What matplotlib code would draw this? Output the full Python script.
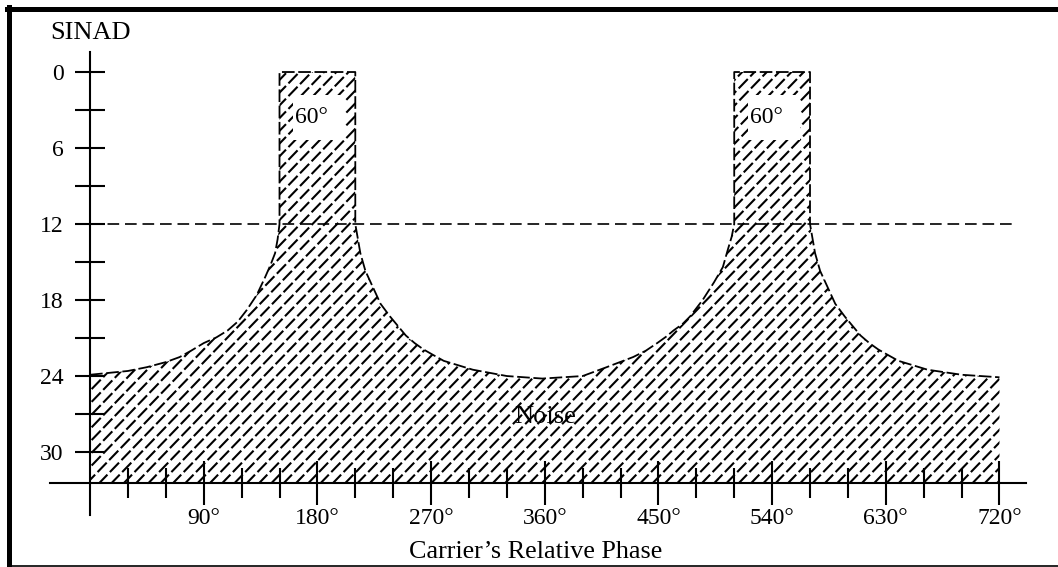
import numpy as np
import matplotlib
matplotlib.use('Agg')
import matplotlib.pyplot as plt
from matplotlib.patches import Polygon, Rectangle
from matplotlib.collections import LineCollection
from matplotlib.lines import Line2D

plt.rcParams['font.family'] = ['Liberation Serif', 'DejaVu Serif']

# Efri jaðar suðsvæðisins (fasi í gráðum, SINAD í dB) lesinn af myndinni
phase = [0, 30, 45, 60, 71, 80, 90, 100, 109, 117, 124, 132, 138.6, 143, 146.5, 148.5, 150,
         150, 210,
         210, 214, 218, 224, 230, 237.5, 250, 257, 264, 271, 280, 303, 330, 358,
         390, 409, 430, 440, 449, 456, 462, 469, 475, 485, 494, 501, 505, 508, 510,
         510, 570,
         570, 574, 578, 584, 590, 597.5, 610, 617, 624, 631, 640, 663, 690, 720]
sinad = [23.9, 23.6, 23.3, 22.9, 22.5, 22.0, 21.4, 20.95, 20.4, 19.7, 18.8, 17.6, 16.2, 15.2, 14.3, 13.2, 12,
         0, 0,
         12, 14.3, 15.7, 17.0, 18.3, 19.3, 20.8, 21.4, 21.9, 22.3, 22.8, 23.5, 24.0, 24.2,
         24.0, 23.3, 22.5, 22.0, 21.4, 20.9, 20.4, 19.9, 19.3, 18.0, 16.6, 15.4, 14.0, 13.0, 12,
         0, 0,
         12, 14.3, 15.7, 17.0, 18.3, 19.3, 20.8, 21.4, 21.9, 22.3, 22.8, 23.5, 23.9, 24.1]

threshold = 12
peak_centers = [180, 540]
peak_label = '60°'

y_major = [0, 6, 12, 18, 24, 30]
y_minor = [3, 9, 15, 21, 27]
x_major = [90, 180, 270, 360, 450, 540, 630, 720]
x_labels = ['90°', '180°', '270°', '360°', '450°', '540°', '630°', '720°']
x_minor = [30, 60, 120, 150, 210, 240, 300, 330, 390, 420, 480, 510, 570, 600, 660, 690]

axis_level = 32.45
W, H = 1058, 567

fig = plt.figure(figsize=(W / 100, H / 100), dpi=100)
ax_px = (50, 52, 1026, 515)  # vinstri, efri, hægri, neðri í pixlum
ax = fig.add_axes([ax_px[0] / W, 1 - ax_px[3] / H,
                   (ax_px[2] - ax_px[0]) / W, (ax_px[3] - ax_px[1]) / H])
ax.set_xlim(-31.7, 741)
ax.set_ylim(34.97, -1.58)

# Suðsvæðið
verts = list(zip(phase, sinad)) + [(720, axis_level), (0, axis_level)]
poly = Polygon(verts, closed=True, facecolor='none', edgecolor='none')
ax.add_patch(poly)

# Strikuð skálína, klippt að svæðinu (strik í takt hornrétt á línurnar)
w = ax_px[2] - ax_px[0]
h = ax_px[3] - ax_px[1]
ang = np.deg2rad(46)
step = 12.3
d = step * np.sin(ang)
u = np.array([np.cos(ang), np.sin(ang)])
n = np.array([np.sin(ang), -np.cos(ang)])
C = np.array([w / 2, h / 2])
L = np.hypot(w, h)
segs = []
for k in range(-int(L / d) - 2, int(L / d) + 3):
    p = C + k * d * n
    a = p - L * u
    b = p + L * u
    segs.append([(a[0] / w, a[1] / h), (b[0] / w, b[1] / h)])
hatch = LineCollection(segs, transform=ax.transAxes, colors='black',
                       linewidths=1.5, linestyles=[(0, (6.3, 1.7))], zorder=1)
hatch.set_clip_path(poly)
ax.add_collection(hatch)

ax.plot(phase, sinad, color='black', lw=1.3, linestyle=(0, (7, 2)), zorder=2)
ax.plot([0, 734], [threshold, threshold], color='black', lw=1.2,
        linestyle=(0, (7, 3.5)), zorder=2)

for c in peak_centers:
    ax.add_patch(Rectangle((c - 19, 1.8), 41, 3.6, facecolor='white',
                           edgecolor='none', zorder=3))
    ax.text(c - 4.5, 3.6, peak_label, ha='center', va='center', fontsize=17, zorder=4)

ax.text(360, 27.2, 'Noise', ha='center', va='center', fontsize=19, zorder=2)

# Ásar
for s in ['top', 'right']:
    ax.spines[s].set_visible(False)
ax.spines['left'].set_position(('data', 0))
ax.spines['bottom'].set_position(('data', axis_level))
ax.spines['left'].set_linewidth(1.5)
ax.spines['bottom'].set_linewidth(1.5)

ax.set_xticks(x_major)
ax.set_xticklabels(x_labels)
ax.set_xticks(x_minor, minor=True)
ax.set_yticks(y_major)
ax.set_yticks(y_minor, minor=True)
ax.tick_params(axis='x', which='major', direction='inout', length=32, width=1.5,
               pad=2, labelsize=17)
ax.tick_params(axis='x', which='minor', direction='inout', length=21, width=1.5)
ax.tick_params(axis='y', which='both', direction='inout', length=22, width=1.5,
               pad=8, labelsize=17)

ax.text(0, -3.1, 'SINAD', ha='center', va='center', fontsize=19, clip_on=False)
fig.text(536 / W, 1 - 552 / H, 'Carrier\u2019s Relative Phase', ha='center',
         va='center', fontsize=18.8)

# Rammi
fig.add_artist(Line2D([7 / W, 1], [1 - 9.2 / H] * 2, transform=fig.transFigure,
                      lw=3.6, color='black'))
fig.add_artist(Line2D([9.2 / W] * 2, [1 - 7 / H, 1 - 566 / H], transform=fig.transFigure,
                      lw=3.6, color='black'))
fig.add_artist(Line2D([9 / W, 1], [1 - 565.5 / H] * 2, transform=fig.transFigure,
                      lw=1.2, color='black'))

fig.savefig('out.png', dpi=100)
